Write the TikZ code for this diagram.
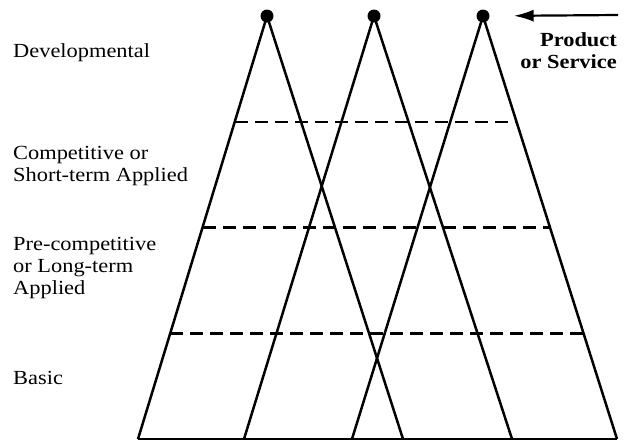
\documentclass[tikz,border=0pt]{standalone}
\usepackage{fontspec}
\setmainfont{Liberation Serif}[FakeStretch=1.12]
\usetikzlibrary{calc,arrows.meta}

\tikzset{
  apexdot/.style={circle,fill,inner sep=0pt,minimum size=13pt},
  edgeline/.style={line width=2.5pt},
  levelline/.style={line width=2.5pt,dash pattern=on 13pt off 7pt},
  lvlabel/.style={anchor=west,align=left,inner sep=0pt,font=\fontsize{20}{22}\selectfont},
}

\begin{document}
\begin{tikzpicture}[x=1pt,y=-1pt]
\useasboundingbox (0,0) rectangle (628,442);

% Triangulos
	\foreach \n/\x/\l/\r in {1/267/138/403, 2/374/244/512, 3/483/352/617}{
		\node[apexdot] (a\n) at (\x,16) {};
		\coordinate (l\n) at (\l,439);
		\coordinate (r\n) at (\r,439);
		\draw[edgeline] (l\n) -- (a\n.center) -- (r\n);
	}
	\draw[edgeline] (l1) -- (r3);

% Niveles
	\foreach \f in {0.25, 0.5, 0.75}
		\draw[levelline] ($(a1.center)!\f!(l1)$) -- ($(a3.center)!\f!(r3)$);

% Flecha
	\coordinate (tail) at (618,15);
	\draw[line width=2.2pt,-{Latex[length=20pt,width=12pt]},shorten >=24pt] (tail) -- (a3.east);
	\node[lvlabel,anchor=east,align=right,font=\fontsize{20}{22}\selectfont\bfseries] (prod) at (617,51) {Product\\or Service};

% Etiquetas
	\node[lvlabel] (dev) at (13,53) {Developmental};
	\node[lvlabel] (comp) at (13,166) {Competitive or\\Short-term Applied};
	\node[lvlabel] (precomp) at (13,268) {Pre-competitive\\or Long-term\\Applied};
	\node[lvlabel] (basic) at (13,378) {Basic};
\end{tikzpicture}
\end{document}
